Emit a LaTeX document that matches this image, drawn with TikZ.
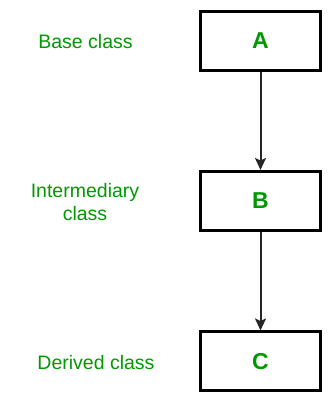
\documentclass[tikz,border=0pt]{standalone}
\usepackage{fontspec}
\setmainfont{Liberation Sans}
\usetikzlibrary{arrows.meta}
\definecolor{classGreen}{HTML}{009900}

\begin{document}
\begin{tikzpicture}[x=1pt, y=1pt, >={Stealth[length=12pt,width=11pt,inset=2.5pt]},
    classbox/.style={draw=black, line width=3pt, fill=white, minimum width=120pt,
        minimum height=59pt, text=classGreen, font=\fontsize{23}{27}\selectfont\bfseries},
    classlabel/.style={text=classGreen, align=center, font=\fontsize{19.5}{23}\selectfont}]

    \useasboundingbox (0,0) rectangle (332,403);

    % classes
    \node[classbox] (a) at (260.5,362) {A};
    \node[classbox] (b) at (260.5,202) {B};
    \node[classbox] (c) at (260.5,41.5) {C};

    % labels
    \node[classlabel] (la) at (85.5,361) {Base class};
    \node[classlabel] (lb) at (85,201) {Intermediary\\class};
    \node[classlabel] (lc) at (96,40.5) {Derived class};

    % inheritance
    \draw[->, line width=2pt, draw=black!85] (a) -- (b);
    \draw[->, line width=2pt, draw=black!85] (b) -- (c);

\end{tikzpicture}
\end{document}
